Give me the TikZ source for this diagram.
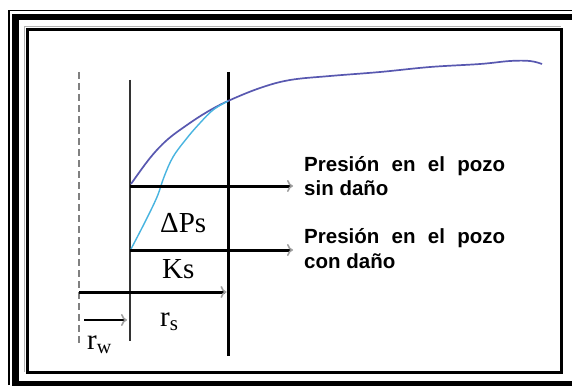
\documentclass[tikz,border=0pt]{standalone}
\usepackage{fontspec}
\setmainfont{Liberation Serif}
\newfontfamily\arialb{Liberation Sans}
\usetikzlibrary{arrows.meta}
\definecolor{curveA}{HTML}{5858B0}
\definecolor{curveB}{HTML}{48B4E0}
\begin{document}
\begin{tikzpicture}[x=1pt,y=-1pt,
  lbl/.style={font=\arialb\bfseries\fontsize{20.5}{24}\selectfont, inner sep=0pt, anchor=base west},
  sym/.style={font=\fontsize{29}{32}\selectfont, inner sep=0pt, anchor=base west},
  harrow/.style={line width=3pt, -{To[length=6pt,width=12pt,color=gray!75,line width=1.6pt]}},
  vline/.style={line width=2.5pt, black!80},
  vlinethick/.style={line width=3pt, black}]
\useasboundingbox (0,0) rectangle (572,385);
\fill[white] (0,0) rectangle (572,385);
\begin{scope}
\clip (0,0) rectangle (572,385);
% outer frame (open on the right and bottom, running off the picture)
\draw[line width=1.5pt] (9,385) -- (9,10.5) -- (572,10.5);
\draw[line width=6.5pt] (15.5,385) -- (15.5,17) -- (572,17);
\draw[line width=6pt] (12.25,383.5) -- (572,383.5);
% inner frame
\draw[gray!60, line width=1pt] (24.5,372) |- (561,26.5);
\draw[line width=3pt] (27.5,29.5) rectangle (561,372.5);
\end{scope}
% coordinates
\coordinate (dT) at (79,72);
\coordinate (dB) at (79,346);
\coordinate (aT) at (130,80);
\coordinate (aB) at (130,341);
\coordinate (bT) at (228,72);
\coordinate (bB) at (228,356);
\coordinate (p1s) at (130,186);
\coordinate (p1e) at (293,186);
\coordinate (p2s) at (130,250);
\coordinate (p2e) at (293,250);
\coordinate (rss) at (79,292);
\coordinate (rse) at (226.5,292);
\coordinate (rws) at (84,320);
\coordinate (rwe) at (127,320);
% vertical lines
\draw[gray, line width=1.5pt, dash pattern=on 7pt off 4pt] (dT) -- (dB);
\draw[vline] (aT) -- (aB);
\draw[vlinethick] (bT) -- (bB);
% curves
\draw[curveA, line width=1.7pt] plot[smooth, tension=0.6] coordinates {(131,184) (150,158) (167,140) (187,125) (207,112) (228,101) (260,88) (290,80) (330,76) (380,72) (430,67) (480,64) (510,61) (530,61) (542,64)};
\draw[curveB, line width=1.4pt] plot[smooth, tension=0.6] coordinates {(131,249) (145,222) (157,197) (164,177) (173,157) (187,138) (200,123) (213,110) (228,101)};
% arrows
\draw[harrow] (p1s) -- (p1e);
\draw[harrow] (p2s) -- (p2e);
\draw[harrow] (rss) -- (rse);
\draw[harrow, line width=2.5pt] (rws) -- (rwe);
% labels
\node[lbl] (t1a) at (304,171) {\makebox[201pt][s]{Presión en el pozo}};
\node[lbl] (t1b) at (304,195.5) {sin daño};
\node[lbl] (t2a) at (304,243) {\makebox[201pt][s]{Presión en el pozo}};
\node[lbl] (t2b) at (304,268) {con daño};
\node[sym] (dps) at (160,232) {ΔPs};
\node[sym] (ks) at (162,278) {Ks};
\node[sym] (rs) at (160,326) {r\raisebox{-4pt}{\fontsize{21}{21}\selectfont s}};
\node[sym] (rw) at (87,349) {r\raisebox{-4pt}{\fontsize{20}{20}\selectfont w}};
\end{tikzpicture}
\end{document}
